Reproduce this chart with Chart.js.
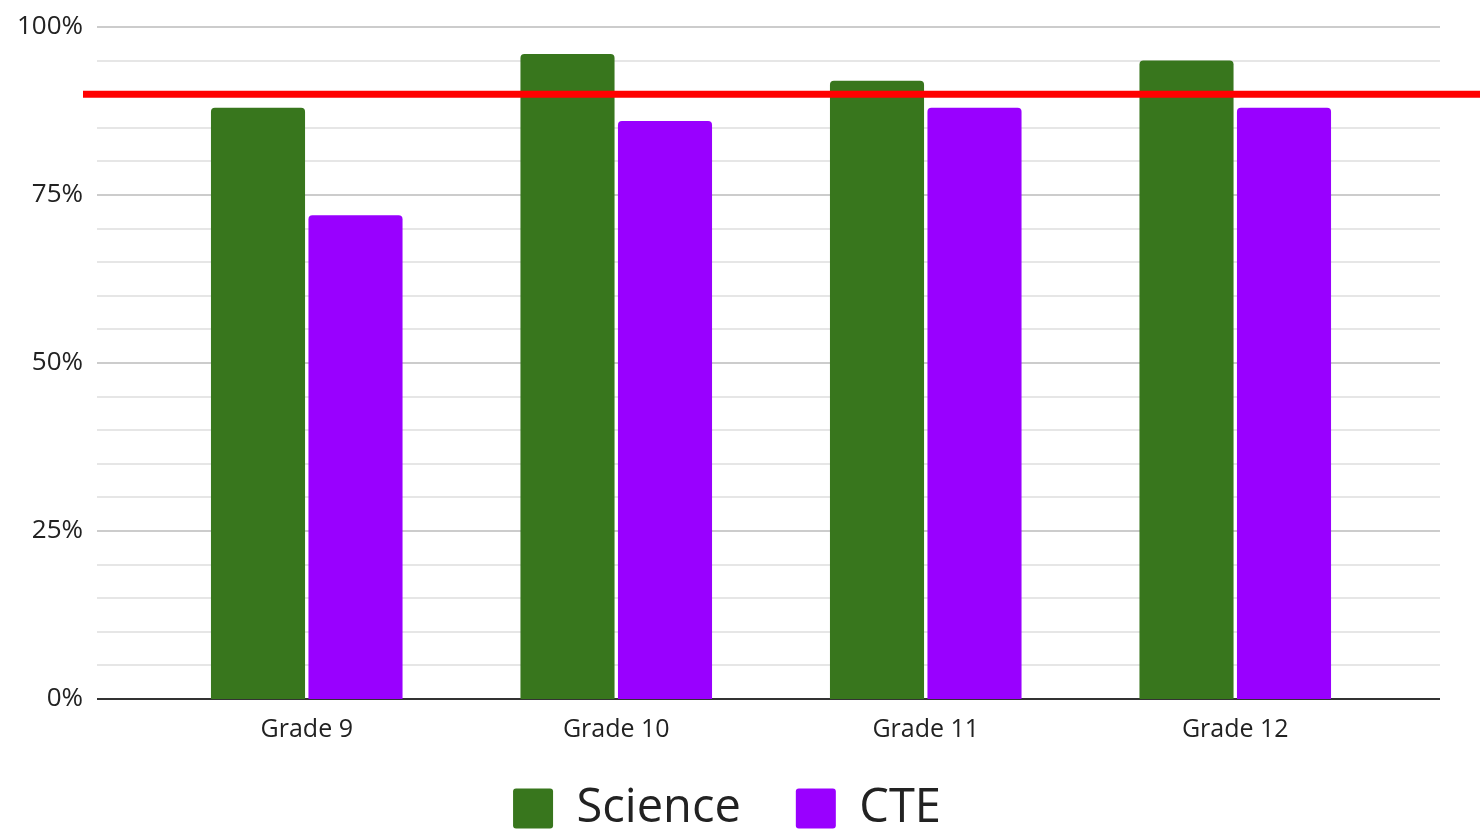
<!DOCTYPE html>
<html>
<head>
<meta charset="utf-8">
<title>Science vs CTE by Grade</title>
<script src="https://cdn.jsdelivr.net/npm/chart.js@4.4.1/dist/chart.umd.min.js"></script>
<style>
  html, body { margin: 0; padding: 0; background: #ffffff; }
  #wrap { width: 1480px; height: 830px; position: relative; }
</style>
</head>
<body>
<div id="wrap"><canvas id="chart" width="1480" height="830"></canvas></div>
<script>
// Categories and series values (percent)
const grades = ['Grade 9', 'Grade 10', 'Grade 11', 'Grade 12'];
const science = [88, 96, 92, 95];
const cte = [72, 86, 88, 88];
// Target threshold drawn as a red line (percent)
const target = [90];
// Value axis range and tick spacing
const yRange = [0, 100];
const yMajorStep = 25;
const yMinorStep = 5;

const FONT = '"Open Sans", "Noto Sans", sans-serif';
const TEXT = '#222222';

// Horizontal grid lines that run a little wider than the bar area
const wideGrid = {
  id: 'wideGrid',
  beforeDatasetsDraw(chart) {
    const { ctx, chartArea, scales: { y } } = chart;
    const x0 = chartArea.left - 55;
    const x1 = chartArea.right + 50;
    ctx.save();
    for (let v = yRange[0]; v <= yRange[1]; v += yMinorStep) {
      const py = Math.round(y.getPixelForValue(v));
      if (v === yRange[0]) ctx.strokeStyle = '#333333';
      else if (v % yMajorStep === 0) ctx.strokeStyle = '#cccccc';
      else ctx.strokeStyle = '#e6e6e6';
      ctx.lineWidth = 2;
      ctx.beginPath();
      ctx.moveTo(x0, py);
      ctx.lineTo(x1, py);
      ctx.stroke();
    }
    ctx.restore();
  }
};

// Red target line across the bars, out to the right edge
const targetLine = {
  id: 'targetLine',
  afterDatasetsDraw(chart) {
    const { ctx, chartArea, width, scales: { y } } = chart;
    ctx.save();
    ctx.strokeStyle = '#ff0000';
    ctx.lineWidth = 7;
    target.forEach(t => {
      const py = y.getPixelForValue(t);
      ctx.beginPath();
      ctx.moveTo(chartArea.left - 69, py);
      ctx.lineTo(width, py);
      ctx.stroke();
    });
    ctx.restore();
  }
};

new Chart(document.getElementById('chart'), {
  type: 'bar',
  data: {
    labels: grades,
    datasets: [
      { label: 'Science', data: science, backgroundColor: '#38761d', borderRadius: 4, categoryPercentage: 0.63, barPercentage: 0.965 },
      { label: 'CTE', data: cte, backgroundColor: '#9900ff', borderRadius: 4, categoryPercentage: 0.63, barPercentage: 0.965 }
    ]
  },
  options: {
    responsive: false,
    animation: false,
    layout: { padding: { top: 27, right: 26, bottom: -12, left: 0 } },
    scales: {
      x: {
        grid: { display: false },
        border: { display: false },
        // labels hang below the axis line without reserving their own band
        ticks: { color: TEXT, padding: -46, mirror: true, font: { family: FONT, size: 25 }, maxRotation: 0 },
        afterFit(scale) { scale.height = 31; }
      },
      y: {
        min: yRange[0], max: yRange[1],
        grid: { display: false },
        border: { display: false },
        ticks: { stepSize: yMajorStep, color: TEXT, padding: 61, font: { family: FONT, size: 26 }, callback: v => v + '%' },
        afterFit(scale) {
          scale.width = 152;
          scale.paddingTop = 0;
          scale.paddingBottom = 0;
        }
      },
      yRight: {
        position: 'right',
        display: true,
        grid: { display: false },
        border: { display: false },
        ticks: { display: false },
        afterFit(scale) { scale.width = 64; }
      }
    },
    plugins: {
      legend: {
        position: 'bottom',
        labels: { boxWidth: 40, boxHeight: 40, useBorderRadius: true, borderRadius: 3, padding: 55, color: TEXT, font: { family: FONT, size: 47 } }
      },
      tooltip: { enabled: false }
    }
  },
  plugins: [wideGrid, targetLine]
});
</script>
</body>
</html>
